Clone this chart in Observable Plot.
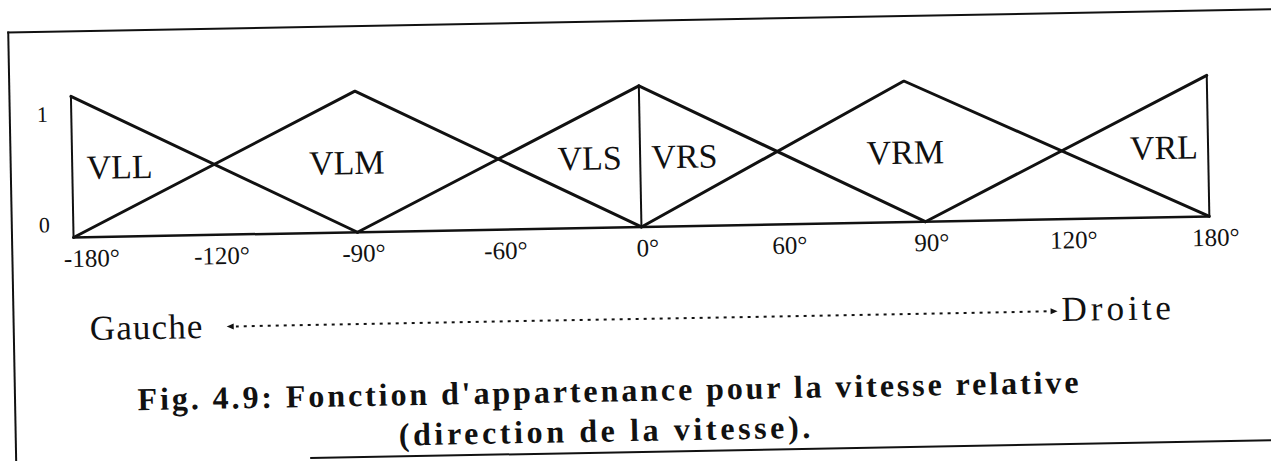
<!DOCTYPE html>
<html>
<head>
<meta charset="utf-8">
<script src="https://cdn.jsdelivr.net/npm/d3@7"></script>
<script src="https://cdn.jsdelivr.net/npm/@observablehq/plot@0.6"></script>
<style>
  html, body { margin: 0; padding: 0; background: #fff; width: 1271px; height: 461px; overflow: hidden; }
  #fig { position: relative; width: 1271px; height: 461px; transform: rotate(-1.06deg); transform-origin: 635px 230px;
         font-family: "Liberation Serif", "Times New Roman", serif; color: #111; }
  #chart { position: absolute; left: 0; top: 0; }
  .frame-top { position: absolute; left: 10.5px; top: 20.4px; width: 1320px; border-top: 2.5px solid #111; }
  .frame-left { position: absolute; left: 10.5px; top: 20.4px; height: 520px; border-left: 2.5px solid #111; }
  .underline { position: absolute; left: 306px; top: 450.5px; width: 1020px; border-top: 2.5px solid #111; }
  .t { position: absolute; white-space: nowrap; display: inline-block; }
  .dir { font-size: 35px; }
  .cap { font-size: 32px; font-weight: bold; }
  .dots { position: absolute; height: 2px;
          background-image: linear-gradient(to right, #111 0 3px, transparent 3px 8px); background-size: 8px 2px; }
  .head-l { position: absolute; width: 0; height: 0; border-top: 3.5px solid transparent; border-bottom: 3.5px solid transparent; border-right: 7px solid #111; }
  .head-r { position: absolute; width: 0; height: 0; border-top: 3.5px solid transparent; border-bottom: 3.5px solid transparent; border-left: 7px solid #111; }
</style>
</head>
<body>
<div id="fig">
  <div class="frame-top"></div>
  <div class="frame-left"></div>
  <div id="chart"></div>
  <div class="t dir" id="gauche"></div>
  <div class="head-l" id="headL"></div>
  <div class="dots" id="dots"></div>
  <div class="head-r" id="headR"></div>
  <div class="t dir" id="droite"></div>
  <div class="t cap" id="cap1"></div>
  <div class="t cap" id="cap2"></div>
  <div class="underline"></div>
</div>
<script>
// ---- data ----
const sets = ["VLL", "VLM", "VLS", "VRS", "VRM", "VRL"];
const setAngles = [[-180, -90], [-180, -90, 0], [-90, 0], [0, 90], [0, 84, 180], [90, 180]];
const setDegrees = [[1, 0], [0, 1, 0], [0, 1], [1, 0], [0, 1, 0], [0, 1]];
const labelAngles = [-165, -93, -16, 14, 84, 166];
const labelDegree = 0.49;
const boundaryAngles = [-180, 0, 180];
const tickAngles = [-180, -135, -90, -45, 0, 45, 90, 135, 180];
const tickLabels = ["-180°", "-120°", "-90°", "-60°", "0°", "60°", "90°", "120°", "180°"];
const yTickValues = [0, 1];
const yTickLabels = ["0", "1"];
const leftWord = "Gauche";
const rightWord = "Droite";
const captionLines = ["Fig. 4.9: Fonction d'appartenance pour la vitesse relative", "(direction de la vitesse)."];

// ---- tables built from the arrays ----
const rows = sets.flatMap((s, i) => setAngles[i].map((a, j) => ({set: s, angle: a, degree: setDegrees[i][j]})));
const labels = sets.map((s, i) => ({set: s, angle: labelAngles[i], degree: labelDegree}));
const ticks = tickAngles.map((a, i) => ({angle: a, label: tickLabels[i]}));
const yticks = yTickValues.map((v, i) => ({v, label: yTickLabels[i]}));

const ink = "#111";
const chart = Plot.plot({
  width: 1271,
  height: 275,
  marginLeft: 73,
  marginRight: 62,
  marginTop: 85.5,
  marginBottom: 48.4,
  x: {domain: [-180, 180], axis: null},
  y: {domain: [0, 1], axis: null},
  style: {fontFamily: "'Liberation Serif', 'Times New Roman', serif", background: "transparent", overflow: "visible", color: ink},
  marks: [
    Plot.ruleY([0], {x1: -180, x2: 180, stroke: ink, strokeWidth: 2.5}),
    Plot.ruleX(boundaryAngles, {y1: 0, y2: 1, stroke: ink, strokeWidth: 2}),
    Plot.line(rows, {x: "angle", y: "degree", z: "set", stroke: ink, strokeWidth: 3, strokeLinejoin: "miter"}),
    Plot.text(labels, {x: "angle", y: "degree", text: "set", fontSize: 34, fill: ink, ariaLabel: "set-labels"}),
    Plot.text(ticks.slice(1), {x: "angle", y: () => 0, text: "label", dy: 21.4, dx: 6, fontSize: 25, fill: ink, ariaLabel: "tick-labels"}),
    Plot.text(ticks.slice(0, 1), {x: "angle", y: () => 0, text: "label", dy: 21.4, dx: -10, textAnchor: "start", fontSize: 25, fill: ink, ariaLabel: "tick-labels"}),
    Plot.text(yticks.slice(0, 1), {x: () => -180, y: "v", text: "label", dx: -29, dy: -12.6, fontSize: 22, fill: ink}),
    Plot.text(yticks.slice(1), {x: () => -180, y: "v", text: "label", dx: -29, dy: 18, fontSize: 22, fill: ink})
  ]
});
document.getElementById("chart").appendChild(chart);
d3.select(chart).selectAll('g[aria-label="tick-labels"] text').style("letter-spacing", "1.5px");

// ---- below-chart annotations ----
function topFor(baseline, size, lh) {
  const asc = 0.891 * size, desc = 0.216 * size;
  return baseline - (asc - (asc + desc - lh) / 2);
}
function fill(el, text, words) {
  el.textContent = "";
  if (!words) { el.textContent = text; return; }
  text.split(" ").forEach((w, i) => {
    if (i) el.appendChild(document.createTextNode(" "));
    const s = document.createElement("span");
    s.textContent = w;
    el.appendChild(s);
  });
}
function place(id, text, left, baseline, width, size, lh, words) {
  const el = document.getElementById(id);
  fill(el, text, words);
  el.style.lineHeight = lh + "px";
  el.style.left = left + "px";
  el.style.top = topFor(baseline, size, lh) + "px";
  el.style.letterSpacing = "0px";
  const natural = el.offsetWidth;
  el.style.letterSpacing = ((width - natural) / text.length) + "px";
}
place("gauche", leftWord, 88, 331, 114, 35, 30, false);
place("droite", rightWord, 1060, 330, 113, 35, 30, false);
place("cap1", captionLines[0], 134.6, 401, 944, 32, 24, true);
place("cap2", captionLines[1], 395, 441, 415, 32, 24, true);

const arrowY = 319, arrowL = 225, arrowR = 1056;
const dots = document.getElementById("dots");
dots.style.left = (arrowL + 9) + "px"; dots.style.width = (arrowR - arrowL - 18) + "px"; dots.style.top = (arrowY - 1) + "px";
const hl = document.getElementById("headL"); hl.style.left = arrowL + "px"; hl.style.top = (arrowY - 3.5) + "px";
const hr = document.getElementById("headR"); hr.style.left = (arrowR - 7) + "px"; hr.style.top = (arrowY - 3.5) + "px";
</script>
</body>
</html>
